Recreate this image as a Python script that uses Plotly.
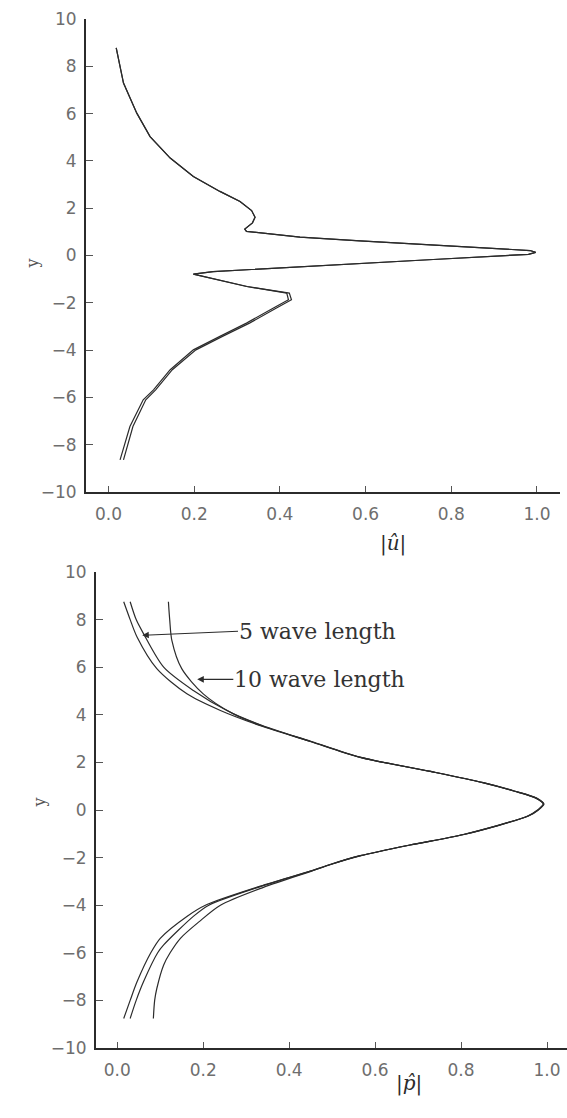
import plotly.graph_objects as go

# ---- |u_hat| amplitude profiles (upper panel) ----
u_y = [8.78, 7.29, 6.02, 5.03, 4.12, 3.34, 2.71, 2.28, 1.90, 1.62, 1.38, 1.12,
       1.02, 0.78, 0.62, 0.44, 0.21, 0.13, 0.05, -0.17, -0.34, -0.48, -0.68,
       -0.79, -1.31, -1.59, -1.87, -2.22, -2.86, -3.42, -3.99, -4.83, -5.68,
       -6.10, -7.23, -8.64]
u_5wave = [0.018, 0.035, 0.066, 0.097, 0.144, 0.198, 0.260, 0.307, 0.334, 0.342,
           0.336, 0.318, 0.322, 0.447, 0.587, 0.758, 0.984, 0.997, 0.980, 0.758,
           0.587, 0.447, 0.244, 0.198, 0.322, 0.416, 0.420, 0.385, 0.322, 0.260,
           0.198, 0.144, 0.105, 0.081, 0.050, 0.027]
u_10wave = [0.018, 0.035, 0.066, 0.097, 0.144, 0.198, 0.260, 0.307, 0.334, 0.342,
            0.336, 0.318, 0.322, 0.447, 0.587, 0.758, 0.984, 0.997, 0.980, 0.758,
            0.587, 0.447, 0.244, 0.198, 0.324, 0.422, 0.427, 0.392, 0.329, 0.266,
            0.204, 0.149, 0.110, 0.087, 0.057, 0.035]

# ---- |p_hat| amplitude profiles (lower panel) ----
p_base_y = [8.75, 8.00, 7.27, 5.94, 4.88, 4.18, 3.54, 2.88, 2.21, 1.62, 1.15,
            0.80, 0.50, 0.25, 0.00, -0.25, -1.03, -1.47, -1.92, -2.29, -2.57,
            -3.20, -4.00, -4.47, -5.39, -6.00, -7.22, -8.00, -8.76]
p_base = [0.015, 0.030, 0.046, 0.092, 0.162, 0.240, 0.333, 0.449, 0.565, 0.728,
          0.850, 0.922, 0.974, 0.991, 0.978, 0.955, 0.805, 0.680, 0.565, 0.495,
          0.449, 0.333, 0.205, 0.162, 0.100, 0.078, 0.046, 0.030, 0.015]

p_5wave_y = [8.75, 8.00, 7.41, 6.00, 5.02, 4.18, 3.56, 2.88, 2.21, 1.62, 1.15,
             0.80, 0.50, 0.25, 0.00, -0.25, -1.03, -1.47, -1.92, -2.29, -2.57,
             -3.20, -4.00, -4.47, -5.67, -6.00, -7.22, -8.00, -8.76]
p_5wave = [0.030, 0.044, 0.061, 0.108, 0.177, 0.255, 0.336, 0.450, 0.566, 0.729,
           0.851, 0.923, 0.975, 0.992, 0.979, 0.956, 0.806, 0.681, 0.566, 0.496,
           0.450, 0.336, 0.213, 0.177, 0.108, 0.094, 0.061, 0.044, 0.030]

p_10wave_y = [8.75, 8.00, 7.13, 5.94, 4.88, 4.04, 3.50, 2.88, 2.21, 1.62, 1.15,
              0.80, 0.50, 0.25, 0.00, -0.25, -1.03, -1.47, -1.92, -2.29, -2.57,
              -3.25, -4.00, -4.70, -5.39, -6.00, -6.51, -7.50, -8.00, -8.76]
p_10wave = [0.119, 0.122, 0.127, 0.150, 0.200, 0.270, 0.343, 0.452, 0.567, 0.730,
            0.852, 0.924, 0.976, 0.993, 0.980, 0.957, 0.807, 0.682, 0.567, 0.497,
            0.452, 0.340, 0.240, 0.190, 0.147, 0.123, 0.108, 0.092, 0.087, 0.084]

x_ticks = [0.0, 0.2, 0.4, 0.6, 0.8, 1.0]
x_ticklabels = ["0.0", "0.2", "0.4", "0.6", "0.8", "1.0"]
y_ticks = [10, 8, 6, 4, 2, 0, -2, -4, -6, -8, -10]
y_ticklabels = ["10", "8", "6", "4", "2", "0", "\u22122", "\u22124", "\u22126", "\u22128", "\u221210"]

W, H = 567, 1118
INK = "#2b2b2b"
TICK_FONT = dict(family="DejaVu Sans", size=17, color="#6e6e6e")

fig = go.Figure()

line_top = dict(color=INK, width=1.2)
fig.add_trace(go.Scatter(x=u_5wave, y=u_y, mode="lines", line=line_top,
                         xaxis="x", yaxis="y", showlegend=False))
fig.add_trace(go.Scatter(x=u_10wave, y=u_y, mode="lines", line=line_top,
                         xaxis="x", yaxis="y", showlegend=False))

line_bot = dict(color=INK, width=1.2, shape="spline", smoothing=0.8)
fig.add_trace(go.Scatter(x=p_base, y=p_base_y, mode="lines", line=line_bot,
                         xaxis="x2", yaxis="y2", showlegend=False))
fig.add_trace(go.Scatter(x=p_5wave, y=p_5wave_y, mode="lines", line=line_bot,
                         xaxis="x2", yaxis="y2", showlegend=False))
fig.add_trace(go.Scatter(x=p_10wave, y=p_10wave_y, mode="lines", line=line_bot,
                         xaxis="x2", yaxis="y2", showlegend=False))


def px_x(p):
    return p / W


def px_y(p):
    return 1 - p / H


def xaxis_style(rng, dom, anchor):
    return dict(range=rng, domain=dom, anchor=anchor, showgrid=False, zeroline=False,
                automargin=False, showline=True, linecolor=INK, linewidth=1.8,
                ticks="inside", ticklen=6, tickwidth=1, tickcolor="#555",
                tickvals=x_ticks, ticktext=x_ticklabels, tickfont=TICK_FONT,
                ticklabelstandoff=6)


def yaxis_style(dom, anchor):
    return dict(range=[-10, 10], domain=dom, anchor=anchor, showgrid=False,
                zeroline=False, automargin=False, showline=True, linecolor=INK,
                linewidth=1.8, ticks="inside", ticklen=7, tickwidth=1,
                tickcolor="#555", tickvals=y_ticks, ticktext=y_ticklabels,
                tickfont=TICK_FONT, ticklabelstandoff=4)


fig.update_layout(
    width=W, height=H, margin=dict(l=0, r=0, t=0, b=0, autoexpand=False),
    paper_bgcolor="white", plot_bgcolor="white",
    xaxis=xaxis_style([-0.0525, 1.0537], [px_x(86), px_x(560)], "y"),
    yaxis=yaxis_style([px_y(492), px_y(19)], "x"),
    xaxis2=xaxis_style([-0.0495, 1.0465], [px_x(96), 1.0], "y2"),
    yaxis2=yaxis_style([px_y(1048), px_y(572)], "x2"),
)

serif = "DejaVu Serif"
annotations = [
    dict(text="<i>|û|</i>", x=px_x(408), y=px_y(543), xref="paper", yref="paper",
         showarrow=False, font=dict(family=serif, size=20, color=INK)),
    dict(text="<i>|p\u0302|</i>", x=px_x(424), y=px_y(1098), xref="paper", yref="paper",
         showarrow=False, font=dict(family=serif, size=20, color=INK)),
    dict(text="y", x=px_x(20), y=px_y(257), xref="paper", yref="paper",
         showarrow=False, textangle=-90, font=dict(family=serif, size=16, color="#555")),
    dict(text="y", x=px_x(27), y=px_y(810), xref="paper", yref="paper",
         showarrow=False, textangle=-90, font=dict(family=serif, size=16, color="#555")),
    dict(text="5 wave length", x=0.058, y=7.34, xref="x2", yref="y2",
         ax=0.281, ay=7.51, axref="x2", ayref="y2", xanchor="left",
         showarrow=True, arrowhead=2, arrowsize=1.1, arrowwidth=1.2, arrowcolor=INK,
         borderpad=0, font=dict(family=serif, size=22, color="#333")),
    dict(text="10 wave length", x=0.186, y=5.49, xref="x2", yref="y2",
         ax=0.270, ay=5.49, axref="x2", ayref="y2", xanchor="left",
         showarrow=True, arrowhead=2, arrowsize=1.1, arrowwidth=1.2, arrowcolor=INK,
         borderpad=0, font=dict(family=serif, size=22, color="#333")),
]
fig.update_layout(annotations=annotations)

fig.write_html("out.html")
